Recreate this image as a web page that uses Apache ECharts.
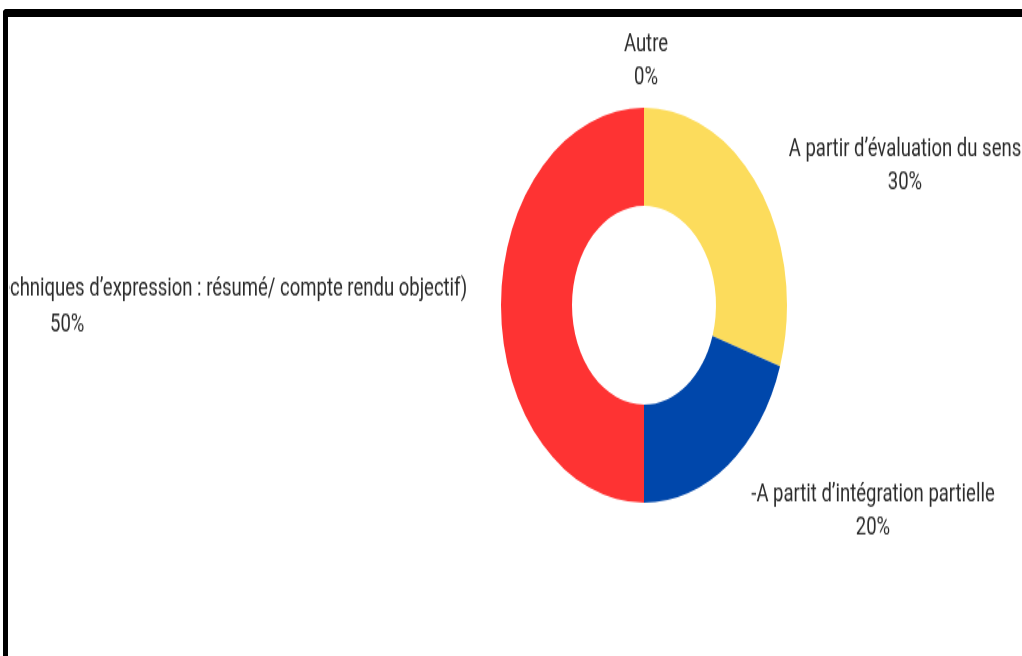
<!DOCTYPE html>
<html>
<head>
<meta charset="utf-8">
<title>Donut</title>
<script src="https://cdn.jsdelivr.net/npm/echarts@6/dist/echarts.min.js"></script>
<style>
  html, body { margin: 0; padding: 0; background: #fff; }
  #page { position: relative; width: 1022px; height: 656px; overflow: hidden; background: #fff; }
  /* the source picture was cropped on the left, just inside the frame */
  #clip { position: absolute; left: 9px; top: 0; width: 1013px; height: 656px; overflow: hidden; }
  /* the picture is stretched vertically, so the chart is drawn flat and scaled */
  #chart { position: absolute; left: -9px; top: 0; width: 1022px; height: 475px;
           transform: scaleY(1.381); transform-origin: 0 0; }
  #frame { position: absolute; left: 3px; top: 9px; width: 1030px; height: 700px;
           border-top: 8px solid #000; border-left: 5px solid #000;
           border-top-left-radius: 4px; box-sizing: border-box; }
</style>
</head>
<body>
<div id="page">
  <div id="clip"><div id="chart"></div></div>
  <div id="frame"></div>
</div>
<script>
// categories, clockwise from the top
var categories = [
  'Autre',
  'A partir d’évaluation du sens',
  '-A partit d’intégration partielle',
  '(Techniques d’expression : résumé/ compte rendu objectif)'
];
var values = [0, 30, 20, 50];
var colors = ['#9e9e9e', '#fcdc5c', '#0047ab', '#fe3333'];

var font = '18.5px Roboto';
// the left label runs off the crop: "(Te" is hidden, "chniques" starts at x=10
var ctx = document.createElement('canvas').getContext('2d');
ctx.font = font;
var hidden = ctx.measureText('(Te').width;

// where each label sits (unscaled coordinates)
var labelPos = [
  { x: 646, y: 44, align: 'center' },
  { x: 905, y: 120, align: 'center' },
  { x: 873, y: 370, align: 'center' },
  { x: 10 - hidden, y: 222, align: 'left' }
];

var chart = echarts.init(document.getElementById('chart'));

var option = {
  backgroundColor: 'transparent',
  animation: false,
  series: [
    {
      type: 'pie',
      center: [644, 221],
      radius: [72, 143],
      startAngle: 90,
      clockwise: true,
      percentPrecision: 0,
      avoidLabelOverlap: false,
      label: {
        show: true,
        position: 'outside',
        color: '#2b2b2b',
        fontFamily: 'Roboto',
        fontSize: 18.5,
        lineHeight: 24,
        align: 'center',
        formatter: function (p) {
          if (p.dataIndex === 3) {
            return '{a|' + p.name + '}\n{b|' + p.percent + '%}';
          }
          return p.name + '\n' + p.percent + '%';
        },
        rich: {
          a: { fontFamily: 'Roboto', fontSize: 18.5, lineHeight: 26, color: '#2b2b2b' },
          b: { fontFamily: 'Roboto', fontSize: 18.5, lineHeight: 26, color: '#2b2b2b', align: 'left',
               padding: [0, 0, 0, 40 + hidden] }
        }
      },
      labelLine: { show: false },
      labelLayout: function (params) {
        var p = labelPos[params.dataIndex];
        return { x: p.x, y: p.y, align: p.align, verticalAlign: 'middle' };
      },
      itemStyle: { borderWidth: 0 },
      data: categories.map(function (c, i) {
        return { name: c, value: values[i], itemStyle: { color: colors[i] } };
      })
    }
  ]
};

chart.setOption(option);
</script>
</body>
</html>
